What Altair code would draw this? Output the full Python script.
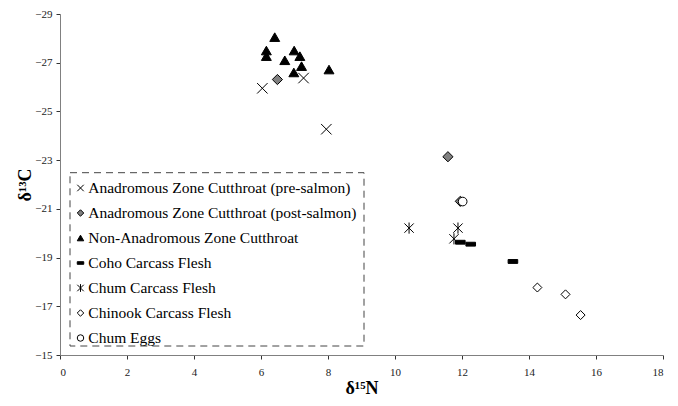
import altair as alt
import pandas as pd

categories = [
    "Anadromous Zone Cutthroat (pre-salmon)",
    "Anadromous Zone Cutthroat (post-salmon)",
    "Non-Anadromous Zone Cutthroat",
    "Coho Carcass Flesh",
    "Chum Carcass Flesh",
    "Chinook Carcass Flesh",
    "Chum Eggs",
]

pre_x = [6.04, 7.27, 7.95]
pre_y = [-25.95, -26.37, -24.27]
post_x = [6.49, 11.58, 11.95]
post_y = [-26.31, -23.14, -21.31]
non_x = [6.41, 6.16, 6.16, 6.71, 6.99, 7.16, 7.21, 6.98, 8.03]
non_y = [-28.05, -27.5, -27.27, -27.1, -27.5, -27.27, -26.86, -26.6, -26.72]
coho_x = [11.95, 12.26, 13.52]
coho_y = [-19.63, -19.55, -18.84]
chum_x = [10.42, 11.88, 11.76]
chum_y = [-20.21, -20.21, -19.77]
chinook_x = [14.25, 15.09, 15.54]
chinook_y = [-17.77, -17.49, -16.64]
eggs_x = [12.02]
eggs_y = [-21.3]

series = [
    (pre_x, pre_y), (post_x, post_y), (non_x, non_y), (coho_x, coho_y),
    (chum_x, chum_y), (chinook_x, chinook_y), (eggs_x, eggs_y),
]
rows = []
for cat, (xs, ys) in zip(categories, series):
    for xv, yv in zip(xs, ys):
        rows.append({"group": cat, "n15": xv, "c13": yv})
df = pd.DataFrame(rows)
legend_df = pd.DataFrame({"group": categories})

shapes = [
    "M-1,-1L1,1M-1,1L1,-1",
    "diamond",
    "triangle-up",
    "M-1,-0.4L1,-0.4L1,0.4L-1,0.4Z",
    "M-1,-1L1,1M-1,1L1,-1M0,-1.2L0,1.2",
    "diamond",
    "circle",
]
fills = ["transparent", "#808080", "black", "black", "transparent", "white", "white"]
sizes = [110, 75, 125, 40, 100, 95, 26]

FONT = "Liberation Serif"

shape_enc = alt.Shape("group:N", scale=alt.Scale(domain=categories, range=shapes), legend=None)
fill_enc = alt.Fill("group:N", scale=alt.Scale(domain=categories, range=fills), legend=None)

points = alt.Chart(df).mark_point(filled=True, stroke="black", strokeWidth=1, opacity=1).encode(
    x=alt.X("n15:Q", scale=alt.Scale(domain=[0, 18], nice=False, zero=False),
            axis=alt.Axis(values=list(range(0, 19, 2)), title="δ¹⁵N", grid=False,
                          tickSize=4, labelPadding=7, titlePadding=2)),
    y=alt.Y("c13:Q", scale=alt.Scale(domain=[-29, -15], reverse=True, nice=False, zero=False),
            axis=alt.Axis(values=list(range(-29, -14, 2)), title="δ¹³C", grid=False,
                          tickSize=4, labelPadding=4, titlePadding=0)),
    shape=shape_enc,
    fill=fill_enc,
    size=alt.Size("group:N", scale=alt.Scale(domain=categories, range=sizes), legend=None),
)

legend_y = alt.Y("group:N", scale=alt.Scale(domain=categories, range=[174, 324], padding=0),
                 axis=None)

legend_symbols = alt.Chart(legend_df).mark_point(
    filled=True, stroke="black", strokeWidth=1, opacity=1, size=42
).encode(x=alt.value(20.5), y=legend_y, shape=shape_enc, fill=fill_enc)

legend_text = alt.Chart(legend_df).mark_text(
    align="left", baseline="middle", font=FONT, fontSize=15.5, color="black"
).encode(x=alt.value(28.3), y=legend_y, text="group:N")

box = alt.Chart(pd.DataFrame({"a": [0]})).mark_rect(
    fill="transparent", stroke="#444", strokeWidth=1, strokeDash=[7, 5]
).encode(x=alt.value(10), x2=alt.value(304), y=alt.value(158.7), y2=alt.value(332))

chart = alt.layer(box, points, legend_symbols, legend_text).resolve_scale(
    y="independent"
).properties(
    width=603, height=341, autosize="none",
    padding={"left": 52, "top": 6, "right": 7, "bottom": 43},
).configure_view(stroke=None).configure_axis(
    domainColor="#808080", tickColor="#333", labelFont=FONT, labelFontSize=11,
    labelColor="#222", titleFont=FONT, titleFontSize=18, titleFontWeight="bold",
    titleColor="black",
)

chart.save("out.html", embed_options={"renderer": "svg", "actions": False})
